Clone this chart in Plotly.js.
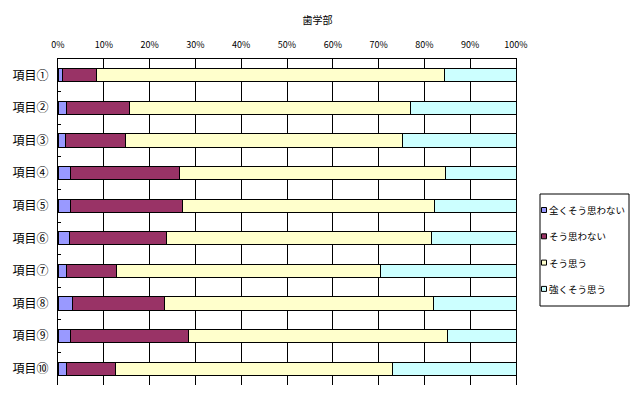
<!DOCTYPE html>
<html>
<head>
<meta charset="utf-8">
<script src="https://cdn.plot.ly/plotly-3.0.1.min.js"></script>
<style>html,body{margin:0;padding:0;background:#fff;}#chart{width:635px;height:395px;}</style>
</head>
<body>
<div id="chart"></div>
<script>
const categories = ["項目①","項目②","項目③","項目④","項目⑤","項目⑥","項目⑦","項目⑧","項目⑨","項目⑩"];
const seriesNames = ["全くそう思わない","そう思わない","そう思う","強くそう思う"];
const stronglyDisagree = [1.0, 1.9, 1.6, 2.8, 2.7, 2.5, 1.9, 3.1, 2.7, 1.9];
const disagree = [7.4, 13.7, 13.1, 23.8, 24.4, 21.1, 10.8, 20.1, 25.7, 10.6];
const agree = [75.9, 61.3, 60.5, 58.0, 55.1, 57.9, 57.7, 58.7, 56.6, 60.5];
const stronglyAgree = [15.7, 23.1, 24.8, 15.4, 17.8, 18.5, 29.6, 18.1, 15.0, 27.0];
const tickVals = [0,10,20,30,40,50,60,70,80,90,100];
const tickText = ["0%","10%","20%","30%","40%","50%","60%","70%","80%","90%","100%"];

const colors = ["#9999FF","#993366","#FFFFCC","#CCFFFF"];
const values = [stronglyDisagree, disagree, agree, stronglyAgree];
const font = "'Noto Sans CJK JP', 'Noto Sans', sans-serif";

const traces = values.map((v, i) => ({
  type: "bar",
  orientation: "h",
  y: categories,
  x: v,
  name: seriesNames[i],
  marker: {color: colors[i], line: {color: "#000", width: 1}},
  hoverinfo: "x+name"
}));

const W = 635, H = 395;
const L = 58, R = 119, T = 59, B = 10;
const pw = W - L - R, ph = H - T - B;
const toPaperX = x => (x - L) / pw;
const toPaperY = y => (H - B - y) / ph;

// custom legend drawn with shapes + annotations
const shapes = [];
const annotations = [];
const legTop = 210, legStep = 26.3;
const rectsPx = [{x0: 540, x1: 629, y0: 194, y1: 306, fill: "#fff"}];
seriesNames.forEach((name, i) => {
  const cy = legTop + i * legStep;
  rectsPx.push({x0: 541.5, x1: 546.5, y0: cy - 2.5, y1: cy + 2.5, fill: colors[i]});
  annotations.push({
    text: name, xref: "paper", yref: "paper", showarrow: false,
    x: toPaperX(547), y: toPaperY(cy), xanchor: "left", yanchor: "middle",
    font: {size: 9.5, family: font, color: "#000"}
  });
});
rectsPx.forEach(s => shapes.push({
  type: "rect", xref: "paper", yref: "paper",
  x0: toPaperX(s.x0), x1: toPaperX(s.x1), y0: toPaperY(s.y1), y1: toPaperY(s.y0),
  fillcolor: s.fill, line: {color: "#000", width: 1}, layer: "above"
}));

const layout = {
  width: W, height: H,
  margin: {l: L, r: R, t: T, b: B},
  paper_bgcolor: "#fff", plot_bgcolor: "#fff",
  barmode: "stack",
  bargap: 0.6,
  font: {family: font, color: "#000"},
  title: {text: "歯学部", font: {size: 10, family: font, color: "#000"}, x: 0.5, xref: "container", y: 1 - 20/H, yref: "container", xanchor: "center", yanchor: "middle"},
  xaxis: {
    side: "top", range: [0, 100], tickvals: tickVals, ticktext: tickText,
    showgrid: true, gridcolor: "#000", gridwidth: 1,
    showline: true, linecolor: "#000", linewidth: 1,
    ticks: "", ticklabelstandoff: 6,
    tickfont: {size: 9, family: font}, zeroline: false, fixedrange: true
  },
  yaxis: {
    autorange: "reversed", type: "category",
    showline: true, linecolor: "#000", linewidth: 1, mirror: true,
    ticks: "inside", ticklen: 3, tickcolor: "#000", tickson: "boundaries",
    showgrid: false, tickfont: {size: 12, family: font}, ticklabelstandoff: 6,
    fixedrange: true
  },
  shapes: shapes,
  annotations: annotations,
  showlegend: false
};

Plotly.newPlot("chart", traces, layout, {displayModeBar: false, staticPlot: true});
</script>
</body>
</html>
